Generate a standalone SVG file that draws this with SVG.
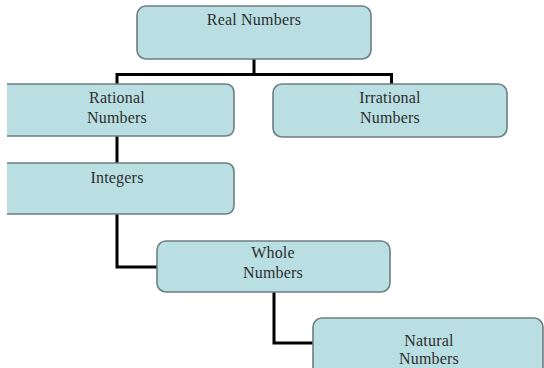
<svg xmlns="http://www.w3.org/2000/svg" width="544" height="368" viewBox="0 0 544 368">
<style>
.box{fill:#b9dfe3;stroke:#6e7e82;stroke-width:1.6}
.lbl{font-family:"Liberation Serif","Times New Roman",serif;font-size:16px;fill:#2e2e2e;text-anchor:middle;letter-spacing:0.2px}
.conn{fill:none;stroke:#000;stroke-width:3}
</style>
<rect width="544" height="368" fill="#fff"/>
<g id="connectors">
<path class="conn" d="M254 59 V74.5 M117 74.5 H391.5 M117 73 V84 M391.5 73 V84"/>
<path class="conn" d="M117 136 V163"/>
<path class="conn" d="M117 214 V267 H157"/>
<path class="conn" d="M274 292 V343 H313"/>
</g>
<g id="real">
<rect class="box" x="137" y="6" width="234" height="53" rx="9"/>
<text class="lbl" x="254" y="25">Real Numbers</text>
</g>
<g id="rational">
<path d="M7 84 H225 Q234 84 234 93 V127 Q234 136 225 136 H7 Z" fill="#b9dfe3"/>
<path class="box" style="fill:none" d="M7 84 H225 Q234 84 234 93 V127 Q234 136 225 136 H7"/>
<text class="lbl" x="117" y="103">Rational</text>
<text class="lbl" x="117" y="123">Numbers</text>
</g>
<g id="irrational">
<rect class="box" x="273" y="84" width="234" height="53" rx="9"/>
<text class="lbl" x="390" y="103">Irrational</text>
<text class="lbl" x="390" y="123">Numbers</text>
</g>
<g id="integers">
<path d="M7 163 H225 Q234 163 234 172 V205 Q234 214 225 214 H7 Z" fill="#b9dfe3"/>
<path class="box" style="fill:none" d="M7 163 H225 Q234 163 234 172 V205 Q234 214 225 214 H7"/>
<text class="lbl" x="117" y="183">Integers</text>
</g>
<g id="whole">
<rect class="box" x="157" y="241" width="233" height="51" rx="9"/>
<text class="lbl" x="273" y="258">Whole</text>
<text class="lbl" x="273" y="278">Numbers</text>
</g>
<g id="natural">
<rect class="box" x="313" y="318" width="230" height="60" rx="9"/>
<text class="lbl" x="429" y="346">Natural</text>
<text class="lbl" x="429" y="364">Numbers</text>
</g>
</svg>
